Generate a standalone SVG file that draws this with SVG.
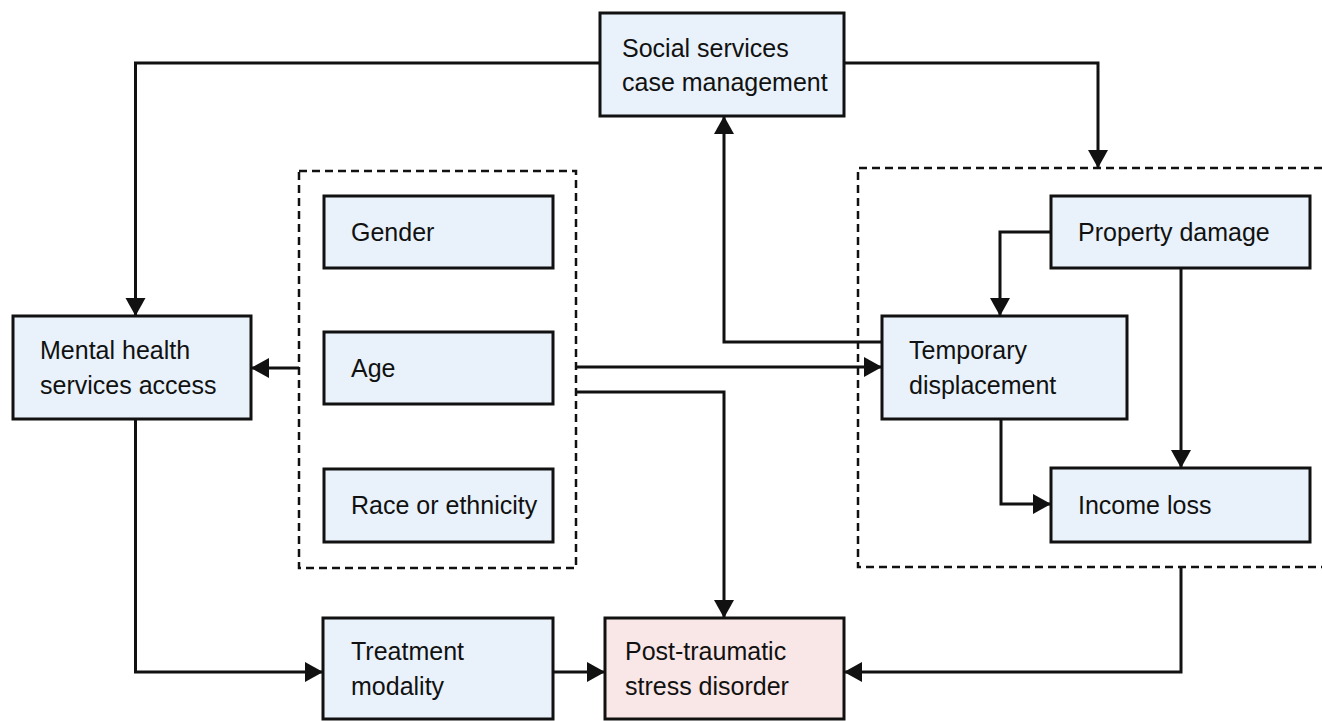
<svg xmlns="http://www.w3.org/2000/svg" width="1322" height="721" viewBox="0 0 1322 721">
<style>
.box{fill:#e9f2fa;stroke:#111;stroke-width:3}
.pink{fill:#f9e6e6;stroke:#111;stroke-width:3}
.dash{fill:none;stroke:#111;stroke-width:2.5;stroke-dasharray:8 5}
.con{fill:none;stroke:#111;stroke-width:3}
text{font-family:"Liberation Sans",Arial,sans-serif;font-size:25px;fill:#111}
</style>
<defs>
<marker id="ah" markerUnits="userSpaceOnUse" markerWidth="20" markerHeight="22" refX="18" refY="10" orient="auto" viewBox="0 0 20 22">
<path d="M0,0 L18,10 L0,20 z" fill="#111"/>
</marker>
</defs>
<rect width="1322" height="721" fill="#fff"/>
<g id="groups">
<rect id="demographics-group" class="dash" x="299" y="171" width="277" height="397"/>
<path id="damage-group" class="dash" d="M1322,168 H858 V567 H1322"/>
</g>
<g id="social"><rect class="box" x="600" y="13" width="244" height="103"/><text x="622" y="57">Social services</text><text x="622" y="91">case management</text></g>
<g id="mental"><rect class="box" x="13" y="316" width="238" height="103"/><text x="40" y="359">Mental health</text><text x="40" y="394">services access</text></g>
<g id="gender"><rect class="box" x="324" y="196" width="229" height="72"/><text x="351" y="241">Gender</text></g>
<g id="age"><rect class="box" x="324" y="332" width="229" height="72"/><text x="351" y="377">Age</text></g>
<g id="race"><rect class="box" x="324" y="469" width="229" height="73"/><text x="351" y="514">Race or ethnicity</text></g>
<g id="property"><rect class="box" x="1051" y="196" width="259" height="72"/><text x="1078" y="241">Property damage</text></g>
<g id="temporary"><rect class="box" x="882" y="316" width="245" height="103"/><text x="909" y="359">Temporary</text><text x="909" y="394">displacement</text></g>
<g id="income"><rect class="box" x="1051" y="468" width="259" height="74"/><text x="1078" y="514">Income loss</text></g>
<g id="treatment"><rect class="box" x="323" y="618" width="230" height="101"/><text x="351" y="660">Treatment</text><text x="351" y="695">modality</text></g>
<g id="ptsd"><rect class="pink" x="605" y="618" width="239" height="101"/><text x="625" y="660">Post-traumatic</text><text x="625" y="695">stress disorder</text></g>
<g id="connectors">
<path class="con" d="M600,63 H135.5 V316" marker-end="url(#ah)"/>
<path class="con" d="M844,63 H1098 V168" marker-end="url(#ah)"/>
<path class="con" d="M882,342 H724 V116" marker-end="url(#ah)"/>
<path class="con" d="M299,368 H251" marker-end="url(#ah)"/>
<path class="con" d="M576,367 H882" marker-end="url(#ah)"/>
<path class="con" d="M576,392 H724 V618" marker-end="url(#ah)"/>
<path class="con" d="M1051,232 H1000 V316" marker-end="url(#ah)"/>
<path class="con" d="M1181,268 V468" marker-end="url(#ah)"/>
<path class="con" d="M1001,419 V504 H1051" marker-end="url(#ah)"/>
<path class="con" d="M1181,567 V672 H844" marker-end="url(#ah)"/>
<path class="con" d="M135.5,419 V672 H323" marker-end="url(#ah)"/>
<path class="con" d="M553,672 H605" marker-end="url(#ah)"/>
</g>
</svg>
